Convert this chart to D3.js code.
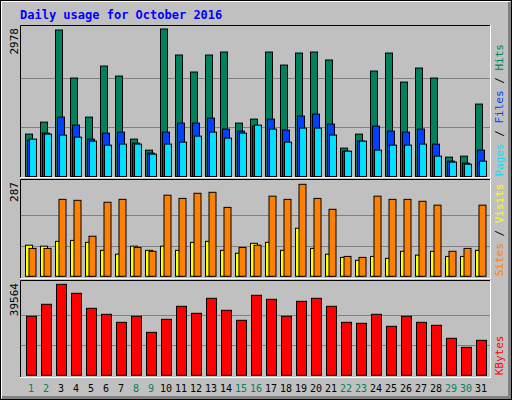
<!DOCTYPE html><html><head><meta charset="utf-8"><script src="https://cdn.jsdelivr.net/npm/d3@7"></script>
<style>body{margin:0;background:#fff}</style></head><body><svg id="c" width="512" height="400"></svg><script>
const days=d3.range(1,32);
const weekends=[1,2,8,9,15,16,22,23,29,30];
const hits=[856,1098,2958,1988,1199,2230,2028,755,532,2978,2453,2109,2453,2513,1078,1159,2513,2250,2493,2513,2352,573,856,2129,2493,1907,2190,1988,391,411,1462];
const files=[734,876,1199,1038,755,876,896,674,472,896,1078,1078,1179,957,916,1017,1159,937,1220,1260,1058,512,714,1017,916,896,957,654,310,270,532];
const pages=[755,856,836,795,714,633,654,654,451,654,694,815,896,775,876,1038,957,694,977,977,836,512,714,532,633,633,654,411,290,249,310];
const sites=[97,94,109,112,106,81,69,94,81,94,81,106,109,81,72,103,106,81,150,87,69,59,50,62,56,78,66,78,62,62,81];
const visits=[87,87,240,237,125,231,240,90,78,253,243,259,262,215,90,97,250,240,287,243,209,62,59,250,240,240,234,222,78,87,222];
const kbytes=[25650,30870,39564,35650,29130,26520,23040,25650,18690,24340,30000,26950,33470,28260,23910,34780,33040,25650,32170,33470,30000,23040,22600,26520,21300,25650,23040,21740,16080,12170,15210];
const maxLabels=["2978","287","39564"];
const svg=d3.select("#c");
svg.append("rect").attr("width",512).attr("height",400).attr("fill","#C0C0C0");
svg.append("rect").attr("x",0.5).attr("y",0.5).attr("width",511).attr("height",399).attr("fill","none").attr("stroke","#000");
svg.append("path").attr("d","M1.5,398V1.5H510").attr("stroke","#fff").attr("fill","none");
svg.append("path").attr("d","M2,397.5H509.5V2").attr("stroke","#808080").attr("stroke-width",3).attr("fill","none");
svg.append("text").attr("x",20).attr("y",19).attr("fill","#0000FF").attr("font-family","DejaVu Sans Mono").attr("font-weight","bold").attr("font-size",12).text("Daily usage for October 2016");
const x=d3.scaleBand().domain(days).range([23,488]);
function panel(y0,y1,base,top,max,series,widths,offs,colors,labels,labColors,maxLab){
  svg.append("rect").attr("x",20.5).attr("y",y0+.5).attr("width",470).attr("height",y1-y0).attr("fill","none").attr("stroke","#fff");
  svg.append("path").attr("d",`M20.5,${y1}V${y0+.5}H490`).attr("stroke","#000").attr("fill","none");
  const y=d3.scaleLinear().domain([0,max]).range([base,top]);
  const g1=top+(base-top)/3, g2=top+2*(base-top)/3;
  [g1,g2].forEach(g=>svg.append("line").attr("x1",21).attr("x2",490).attr("y1",Math.round(g)+.5).attr("y2",Math.round(g)+.5).attr("stroke","#808080"));
  series.forEach((s,i)=>{
    svg.append("g").selectAll("rect").data(s).join("rect")
      .attr("x",(d,j)=>x(days[j])+offs[i]+.5).attr("y",d=>y(d)).attr("width",widths[i]).attr("height",d=>base-y(d))
      .attr("fill",colors[i]).attr("stroke","#000");
  });
  svg.append("text").attr("transform",`translate(18,${y0+3}) rotate(-90)`).attr("text-anchor","end").attr("font-family","DejaVu Sans Mono").attr("font-size",11).text(maxLab);
  const t=svg.append("text").attr("transform",`translate(503,${base}) rotate(-90)`).attr("font-family","DejaVu Sans Mono").attr("font-size",11);
  labels.forEach((l,i)=>{ if(i) t.append("tspan").attr("fill","#000").text(" / "); t.append("tspan").attr("fill",labColors[i]).text(l);});
}
panel(25,177,176.5,29,2978,[hits,files,pages],[7,7,7],[2,4,6],["#00805C","#0040FF","#00E0FF"],["Pages","Files","Hits"],["#00E0FF","#0040FF","#00805C"],maxLabels[0]);
panel(179,278,276.3,184.3,287,[sites,visits],[7,7],[2,5.5],["#FFFF00","#FF8000"],["Sites","Visits"],["#FF8000","#FFFF00"],maxLabels[1]);
panel(280,377,375.3,284.3,39564,[kbytes],[10],[3],["#FF0000"],["KBytes"],["#FF0000"],maxLabels[2]);
svg.selectAll(".d").data(days).join("text").attr("x",d=>x(d)+8).attr("y",392).attr("text-anchor","middle")
  .attr("font-family","DejaVu Sans Mono").attr("font-size",10).attr("fill",d=>weekends.includes(d)?"#00805C":"#000").text(d=>d);
</script></body></html>
